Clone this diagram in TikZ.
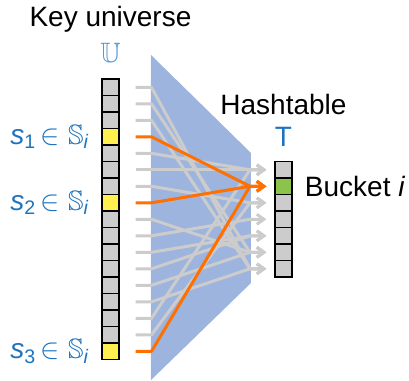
\documentclass[tikz,border=0pt]{standalone}
\usepackage{amsmath}
\usepackage{amssymb}
\usepackage{fontspec}
\setmainfont{Liberation Sans}
\usetikzlibrary{matrix}
\usetikzlibrary{positioning,calc}
\usetikzlibrary{arrows.meta}
\definecolor{cellgray}{RGB}{204,204,204}
\definecolor{keyyellow}{RGB}{255,240,80}
\definecolor{bucketgreen}{RGB}{140,195,75}
\definecolor{hashblue}{RGB}{157,180,222}
\definecolor{hitorange}{RGB}{255,112,0}
\definecolor{setblue}{RGB}{30,115,190}
\definecolor{univblue}{RGB}{80,150,215}

\begin{document}
\begin{tikzpicture}[x=0.5pt, y=-0.5pt, font=\fontsize{14}{17}\selectfont,
    every node/.style={inner sep=0pt},
    cellcolumn/.style={matrix of nodes, row sep=-0.6pt, nodes in empty cells,
        nodes={draw, fill=cellgray, line width=0.6pt, minimum width=8.5pt, minimum height=8.25pt}},
    hashline/.style={draw=cellgray, line width=1.5pt, line join=round, -{Straight Barb[length=3.5pt,width=5pt]}},
    hitline/.style={hashline, draw=hitorange},
    setlabel/.style={text=setblue}]
    \useasboundingbox (0,0) rectangle (409,381);
    \fill[hashblue] (151,55) -- (251,153) -- (251,283) -- (151,380) -- cycle;
    \matrix (U) at (110.5,219.3) [cellcolumn, row 4/.style={{nodes={fill=keyyellow}}},
        row 8/.style={{nodes={fill=keyyellow}}}, row 17/.style={{nodes={fill=keyyellow}}}]
    {
      \\ \\ \\ \\ \\ \\ \\ \\ \\ \\ \\ \\ \\ \\ \\ \\ \\
    };
    \matrix (T) at (283.5,219.3) [cellcolumn, row 2/.style={{nodes={fill=bucketgreen}}}]
    {
      \\ \\ \\ \\ \\ \\ \\
    };
    \node[above=8pt of U-1-1, text=univblue] (univ) {$\mathbb{U}$};
    \node[above=5pt of univ] (keys) {Key universe};
    \node[above=7pt of T-1-1, text=setblue] (tab) {T};
    \node[above=6pt of tab] (hashtab) {Hashtable};
    \node[right=6pt of T-2-1] (bucket) {Bucket \textit{i}};
    \node[setlabel, left=6pt of U-4-1] (s1) {\textit{s}\textsubscript{1}\,$\in\mathbb{S}_{\textit{i}}$};
    \node[setlabel, left=6pt of U-8-1] (s2) {\textit{s}\textsubscript{2}\,$\in\mathbb{S}_{\textit{i}}$};
    \node[setlabel, left=6pt of U-17-1] (s3) {\textit{s}\textsubscript{3}\,$\in\mathbb{S}_{\textit{i}}$};
    \coordinate (in) at (151.5,0);
    \coordinate (out) at (250,0);
    \foreach \k/\r in {1/7,2/6,3/7,5/1,6/1,7/3,9/6,10/4,11/5,12/5,13/6,14/7,15/1,16/3}
      \draw[hashline] ([xshift=8pt]U-\k-1.east) -- (in |- U-\k-1) -- (out |- T-\r-1) -- ([xshift=-4pt]T-\r-1.west);
    \foreach \k in {4,8,17}
      \draw[hitline] ([xshift=8pt]U-\k-1.east) -- (in |- U-\k-1) -- (out |- T-2-1) -- ([xshift=-4pt]T-2-1.west);
\end{tikzpicture}
\end{document}
